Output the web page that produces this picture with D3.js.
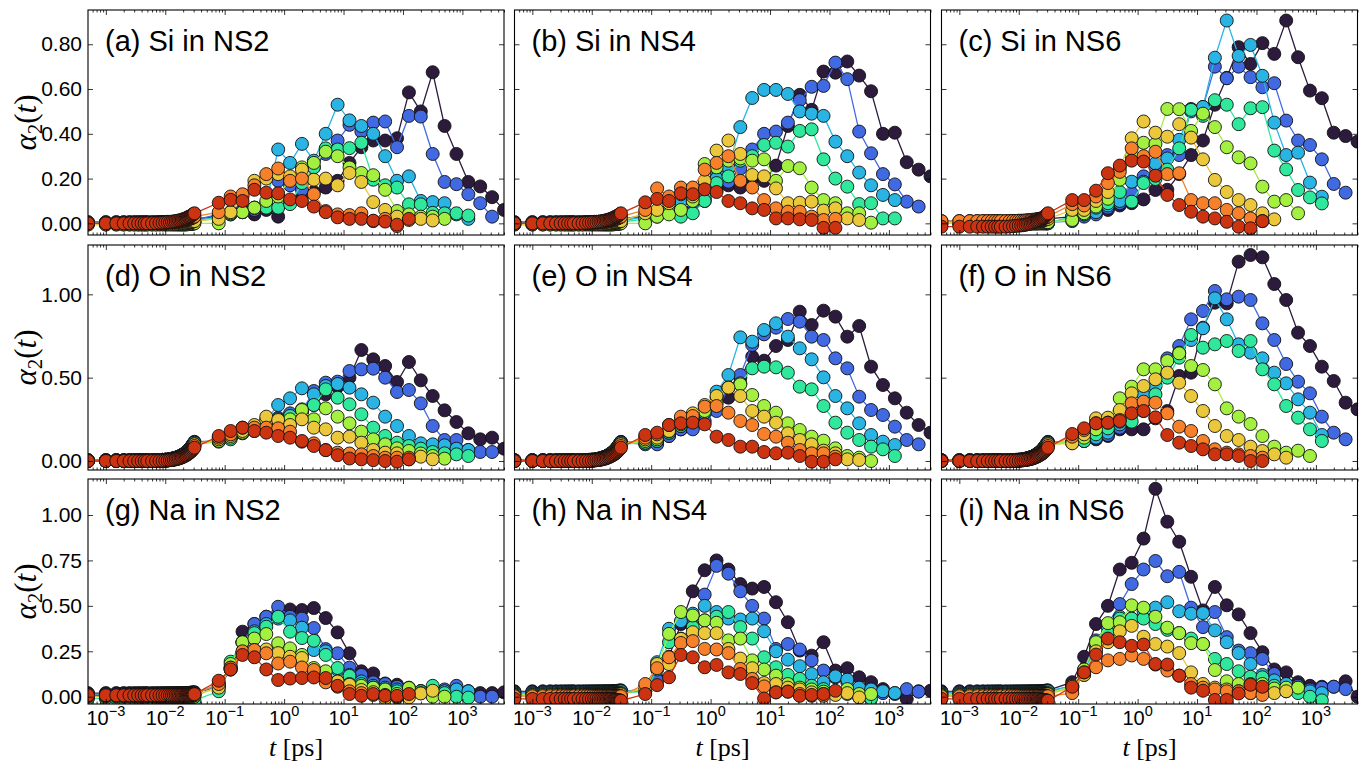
<!DOCTYPE html>
<html><head><meta charset="utf-8">
<script src="https://cdn.jsdelivr.net/npm/d3@7"></script>
<style>body{margin:0;background:#fff}svg{display:block}</style>
</head><body>
<svg id="chart" width="1367" height="762"></svg>
<script>
// ---------------- DATA ----------------
const tEarly = [.0005,.001,.0015,.002,.0025,.003,.0035,.004,.0045,.005,.006,.007,.008,.009,.010,.011,.012,.013,.014,.015,.016,.017,.018,.019,.020,.021,.022,.023,.024,.025,.026,.027,.028,.029,.030,.031];
const tLate = [0.0794,0.1259,0.1995,0.3162,0.5012,0.7943,1.259,1.995,3.162,5.012,7.943,12.59,19.95,31.62,50.12,79.43,125.9,199.5,316.2,501.2,794.3,1259,1995,3162,5012];
const seriesColors = ["#2d1b3e","#4169e1","#2ab4e4","#30e89c","#a4f040","#ebc83b","#f7802a","#cc3311"];
const panelTitles = ["(a) Si in NS2","(b) Si in NS4","(c) Si in NS6","(d) O in NS2","(e) O in NS4","(f) O in NS6","(g) Na in NS2","(h) Na in NS4","(i) Na in NS6"];
const xTickExponents = [-3,-2,-1,0,1,2,3];
const yTicksSi = [0,0.2,0.4,0.6,0.8];
const yTicksO = [0,0.5,1.0];
const yTicksNa = [0,0.25,0.5,0.75,1.0];

// early-time values (t <= 0.031 ps), one array per series, purple -> red
const earlySi = [
 [.005,.005,.005,.005,.005,.005,.005,.005,.005,.005,.005,.005,.006,.006,.006,.007,.007,.007,.008,.008,.009,.009,.01,.01,.011,.012,.012,.013,.014,.015,.015,.016,.017,.018,.019,.02],
 [.005,.005,.005,.005,.005,.005,.005,.005,.005,.005,.005,.005,.005,.006,.006,.006,.006,.007,.007,.007,.007,.008,.008,.009,.009,.009,.01,.01,.011,.011,.012,.012,.013,.014,.014,.015],
 [0,0,0,0,0,0,0,0,0,0,0,0,0,.001,.001,.001,.001,.002,.002,.002,.002,.003,.003,.004,.004,.004,.005,.005,.006,.006,.007,.007,.008,.009,.009,.01],
 [0,0,0,0,0,0,0,0,0,0,0,0,0,0,0,0,0,0,0,0,0,0,0,0,0,0,.001,.001,.002,.002,.003,.003,.004,.004,.005,.005],
 [-.005,-.005,-.005,-.005,-.005,-.005,-.005,-.005,-.005,-.005,-.005,-.005,-.005,-.005,-.005,-.005,-.005,-.005,-.005,-.005,-.005,-.005,-.005,-.005,-.005,-.005,-.005,-.004,-.004,-.003,-.003,-.002,-.002,-.001,-.001,0],
 [-.005,-.005,-.005,-.005,-.005,-.005,-.005,-.005,-.005,-.005,-.005,-.005,-.004,-.004,-.004,-.003,-.003,-.003,-.002,-.002,-.001,-.001,0,0,.001,.002,.002,.003,.004,.004,.005,.006,.007,.008,.009,.01],
 [0,0,0,0,0,0,0,0,0,0,0,.001,.001,.002,.002,.003,.004,.004,.005,.006,.007,.008,.01,.011,.012,.013,.015,.016,.018,.019,.021,.022,.024,.026,.028,.03],
 [0,0,0,0,0,0,0,0,0,0,0,.001,.002,.003,.004,.005,.005,.007,.008,.009,.011,.013,.014,.016,.018,.02,.022,.024,.027,.029,.031,.033,.036,.039,.042,.045]
];
const earlySiC = [
 [.01,.01,.01,.01,.01,.01,.01,.01,.01,.01,.01,.01,.01,.01,.01,.01,.01,.01,.01,.01,.01,.01,.01,.01,.01,.01,.011,.012,.013,.014,.015,.016,.017,.018,.019,.02],
 [.005,.005,.005,.005,.005,.005,.005,.005,.005,.005,.005,.005,.005,.005,.005,.005,.005,.005,.005,.005,.005,.005,.005,.005,.005,.005,.005,.005,.005,.005,.005,.005,.005,.005,.005,.005],
 [.005,.005,.005,.005,.005,.005,.005,.005,.005,.005,.005,.005,.005,.005,.005,.005,.005,.005,.005,.005,.005,.005,.005,.005,.005,.005,.005,.004,.004,.003,.003,.002,.002,.001,.001,0],
 [0,0,0,0,0,0,0,0,0,0,0,0,0,0,0,0,0,0,0,0,0,0,0,0,0,0,0,0,0,0,0,0,0,0,0,0],
 [0,0,0,0,0,0,0,0,0,0,0,0,0,0,0,0,0,0,0,0,0,0,0,0,0,0,.001,.001,.002,.002,.003,.003,.004,.004,.005,.005],
 [.005,.005,.005,.005,.005,.005,.005,.005,.005,.005,.005,.005,.006,.006,.006,.007,.007,.007,.008,.008,.009,.009,.01,.01,.011,.012,.012,.013,.014,.015,.015,.016,.017,.018,.019,.02],
 [.01,.01,.01,.01,.01,.01,.01,.01,.01,.01,.01,.01,.011,.011,.012,.012,.012,.013,.014,.014,.015,.016,.016,.017,.018,.019,.02,.021,.022,.023,.024,.025,.026,.027,.029,.03],
 [-.015,-.015,-.015,-.015,-.015,-.015,-.015,-.015,-.015,-.015,-.015,-.014,-.013,-.011,-.01,-.009,-.008,-.006,-.004,-.002,-.001,.002,.004,.007,.009,.011,.014,.017,.02,.023,.026,.029,.033,.037,.041,.045]
];
const earlyO = [
 [.005,.005,.005,.005,.005,.005,.005,.005,.005,.005,.005,.005,.006,.007,.008,.009,.011,.014,.016,.019,.023,.026,.03,.035,.039,.045,.05,.056,.062,.069,.075,.083,.09,.098,.106,.115],
 [.005,.005,.005,.005,.005,.005,.005,.005,.005,.005,.005,.005,.006,.007,.008,.009,.011,.014,.016,.019,.023,.026,.03,.035,.039,.045,.05,.056,.062,.069,.075,.083,.09,.098,.106,.112],
 [.005,.005,.005,.005,.005,.005,.005,.005,.005,.005,.005,.005,.006,.007,.008,.009,.011,.013,.016,.019,.022,.026,.03,.034,.039,.044,.049,.055,.061,.067,.074,.081,.088,.095,.102,.11],
 [0,0,0,0,0,0,0,0,0,0,0,0,.001,.001,.003,.004,.006,.008,.01,.013,.016,.019,.023,.027,.031,.036,.041,.046,.052,.058,.064,.071,.077,.085,.092,.1],
 [0,0,0,0,0,0,0,0,0,0,0,0,.001,.001,.003,.004,.006,.008,.01,.013,.016,.019,.023,.027,.031,.036,.041,.046,.052,.058,.064,.071,.077,.085,.092,.1],
 [0,0,0,0,0,0,0,0,0,0,0,0,.001,.001,.003,.004,.006,.008,.01,.013,.016,.019,.023,.027,.031,.036,.041,.046,.052,.058,.064,.071,.077,.085,.092,.1],
 [0,0,0,0,0,0,0,0,0,0,0,0,.001,.001,.002,.004,.005,.007,.009,.012,.014,.017,.021,.024,.028,.032,.037,.042,.047,.052,.058,.064,.07,.076,.083,.09],
 [0,0,0,0,0,0,0,0,0,0,0,0,.001,.001,.002,.003,.005,.006,.008,.01,.013,.015,.018,.022,.025,.029,.033,.037,.041,.046,.051,.056,.062,.068,.074,.08]
];
const earlyNa2 = [
 [.02,.02,.02,.02,.02,.02,.02,.02,.02,.02,.02,.02,.02,.02,.02,.02,.02,.02,.02,.02,.02,.02,.02,.02,.02,.02,.02,.02,.021,.021,.022,.022,.023,.023,.024,.025],
 [.015,.015,.015,.015,.015,.015,.015,.015,.015,.015,.015,.015,.015,.015,.015,.015,.015,.015,.015,.015,.015,.015,.015,.015,.015,.015,.015,.015,.016,.016,.017,.017,.018,.018,.019,.02],
 [.01,.01,.01,.01,.01,.01,.01,.01,.01,.01,.01,.01,.01,.01,.01,.01,.01,.01,.01,.01,.01,.01,.01,.01,.01,.01,.01,.01,.01,.011,.011,.012,.012,.013,.013,.014],
 [-.01,-.01,-.01,-.01,-.01,-.01,-.01,-.01,-.01,-.01,-.01,-.01,-.01,-.01,-.01,-.01,-.01,-.01,-.01,-.01,-.01,-.01,-.01,-.01,-.011,-.012,-.013,-.014,-.015,-.016,-.017,-.018,-.019,-.02,-.02,-.02],
 [0,0,0,0,0,0,0,0,0,0,0,0,0,0,0,0,0,0,0,0,0,0,0,0,0,0,0,0,0,0,0,0,0,0,0,0],
 [.003,.003,.003,.003,.003,.003,.003,.003,.003,.003,.003,.003,.003,.003,.003,.003,.003,.003,.003,.003,.003,.003,.003,.003,.003,.003,.004,.004,.005,.005,.006,.006,.007,.007,.008,.008],
 [.006,.006,.006,.006,.006,.006,.006,.006,.006,.006,.006,.006,.006,.006,.006,.006,.006,.006,.006,.006,.006,.006,.006,.006,.006,.006,.007,.008,.009,.01,.011,.012,.013,.014,.015,.016],
 [.008,.008,.008,.008,.008,.008,.008,.008,.008,.008,.008,.008,.008,.008,.008,.008,.008,.008,.008,.008,.008,.008,.008,.008,.008,.008,.008,.009,.009,.01,.01,.011,.012,.012,.013,.014]
];
const earlyNa46 = [
 [.03,.03,.03,.03,.03,.03,.03,.03,.03,.03,.03,.03,.03,.03,.03,.03,.03,.03,.03,.03,.03,.03,.03,.03,.03,.03,.03,.03,.031,.031,.032,.032,.033,.033,.034,.035],
 [.025,.025,.025,.025,.025,.025,.025,.025,.025,.025,.025,.025,.025,.025,.025,.025,.025,.025,.025,.025,.025,.025,.025,.025,.025,.025,.025,.025,.026,.026,.027,.027,.028,.028,.029,.03],
 [.02,.02,.02,.02,.02,.02,.02,.02,.02,.02,.02,.02,.02,.02,.02,.02,.02,.02,.02,.02,.02,.02,.02,.02,.02,.02,.021,.022,.023,.024,.025,.026,.027,.028,.029,.03],
 [.015,.015,.015,.015,.015,.015,.015,.015,.015,.015,.015,.015,.015,.015,.015,.015,.015,.015,.015,.015,.015,.015,.015,.015,.015,.015,.015,.016,.016,.017,.017,.018,.018,.019,.019,.02],
 [.01,.01,.01,.01,.01,.01,.01,.01,.01,.01,.01,.01,.01,.01,.01,.01,.01,.01,.01,.01,.01,.01,.01,.01,.01,.01,.01,.011,.011,.012,.012,.013,.013,.014,.014,.015],
 [.008,.008,.008,.008,.008,.008,.008,.008,.008,.008,.008,.008,.008,.008,.008,.008,.008,.008,.008,.008,.008,.008,.008,.008,.008,.008,.008,.009,.009,.01,.01,.011,.011,.012,.012,.013],
 [.003,.003,.003,.003,.003,.003,.003,.003,.003,.003,.003,.003,.003,.003,.003,.003,.003,.003,.003,.003,.003,.003,.003,.003,.003,.003,.003,.003,.003,.003,.003,.003,.003,.003,.003,.003],
 [-.012,-.012,-.012,-.012,-.012,-.012,-.012,-.012,-.012,-.012,-.012,-.012,-.012,-.012,-.012,-.012,-.012,-.012,-.012,-.012,-.012,-.012,-.012,-.012,-.012,-.012,-.013,-.014,-.015,-.016,-.017,-.018,-.019,-.02,-.021,-.022]
];

// late-time values (t = 0.079 ps ... 5000 ps, 0.2-decade steps), purple -> red
const lateSiNS2 = [
 [.03,.05,.05,.04,.06,.03,.10,.12,.14,.16,.19,.27,.34,.37,.37,.38,.585,.50,.675,.435,.31,.185,.165,.117,.06],
 [.04,.05,.06,.06,.07,.19,.17,.15,.25,.31,.37,.44,.41,.45,.455,.34,.48,.477,.31,.185,.175,.13,.09,.03],
 [.03,.04,.05,.07,.09,.33,.27,.355,.28,.40,.53,.46,.435,.40,.30,.19,.21,.10,.095,.09,.04,.02],
 [.03,.04,.05,.07,.07,.07,.086,.18,.25,.335,.33,.336,.36,.195,.17,.16,.085,.085,.047,.045,.045,.035],
 [0,.045,.05,.07,.10,.12,.20,.25,.27,.32,.30,.25,.225,.215,.15,.055,.04,.03,.03,.02],
 [.02,.05,.12,.19,.20,.22,.21,.24,.195,.20,.17,.225,.185,.095,.06,.03,.015,.02,.013],
 [.05,.12,.13,.17,.22,.245,.19,.20,.13,.055,.04,.037,.045,.01,.02,-.012],
 [.092,.105,.10,.15,.137,.134,.107,.10,.075,.05,.027,.02,.02,.012,.008,-.006,.02]
];
const lateSiNS4 = [
 [.03,.04,.05,.075,.09,.11,.15,.17,.16,.20,.19,.258,.435,.574,.507,.678,.673,.723,.66,.59,.40,.405,.273,.24,.21],
 [.04,.05,.05,.08,.09,.10,.22,.186,.245,.33,.40,.41,.45,.55,.61,.614,.718,.644,.41,.313,.22,.174,.097,.075],
 [.03,.05,.06,.10,.11,.12,.20,.25,.43,.56,.596,.596,.578,.50,.49,.48,.365,.30,.227,.17,.127,.104],
 [.02,.03,.05,.03,.045,.10,.18,.21,.28,.30,.35,.36,.343,.413,.42,.286,.20,.164,.086,.09,.022,.022],
 [0,.03,.04,.06,.10,.265,.25,.28,.29,.28,.286,.19,.256,.246,.16,.104,.09,.045,.045,.003],
 [.045,.06,.09,.13,.12,.19,.325,.37,.31,.216,.21,.156,.09,.092,.097,.057,.067,.022,.015],
 [.06,.156,.12,.16,.16,.24,.27,.30,.19,.16,.104,.067,.052,.052,.03,.015,.02],
 [.094,.109,.10,.134,.13,.152,.14,.10,.09,.067,.06,.022,.022,.018,.015,-.02,-.02]
];
const lateSiNS6 = [
 [.03,.04,.05,.06,.08,.09,.107,.149,.15,.22,.305,.37,.53,.65,.787,.712,.805,.757,.906,.742,.593,.559,.405,.39,.365],
 [.01,.03,.04,.07,.09,.135,.21,.25,.305,.305,.511,.52,.70,.648,.70,.653,.608,.626,.459,.37,.35,.286,.176,.137],
 [.03,.04,.05,.08,.10,.186,.186,.268,.29,.373,.50,.52,.74,.906,.748,.797,.659,.45,.305,.316,.182,.119],
 [.03,.04,.07,.09,.14,.097,.18,.198,.24,.335,.507,.48,.55,.53,.443,.514,.519,.325,.241,.149,.116,.089],
 [.015,.045,.075,.11,.195,.30,.36,.355,.511,.51,.413,.49,.43,.34,.295,.268,.164,.097,.104,.045],
 [.06,.06,.10,.14,.246,.38,.455,.405,.387,.443,.383,.286,.194,.14,.104,.082,.045,.018],
 [.086,.08,.12,.18,.23,.335,.30,.32,.22,.224,.104,.09,.09,.06,.045,.022,.01],
 [.104,.104,.146,.224,.258,.28,.276,.213,.127,.082,.052,.03,.022,.007,-.015,-.022,.01]
];
const lateONS2 = [
 [.12,.14,.17,.19,.21,.22,.25,.28,.336,.40,.446,.50,.666,.61,.57,.474,.594,.484,.39,.304,.234,.166,.13,.14,.074],
 [.12,.14,.17,.21,.23,.26,.286,.30,.42,.47,.476,.54,.55,.554,.50,.414,.426,.346,.21,.126,.126,.066,.054,.054],
 [.12,.14,.17,.21,.25,.336,.376,.436,.40,.45,.462,.44,.40,.35,.266,.21,.15,.106,.10,.094,.074,.066],
 [.116,.13,.166,.18,.236,.25,.27,.31,.336,.43,.38,.34,.28,.20,.15,.11,.09,.074,.054,.046,.04,.03],
 [.12,.14,.17,.20,.236,.25,.25,.306,.25,.316,.266,.226,.176,.13,.10,.076,.06,.045,.03,.014],
 [.13,.15,.18,.216,.266,.246,.216,.25,.20,.19,.14,.146,.11,.066,.05,.046,.01,.026,.01],
 [.14,.16,.20,.20,.20,.196,.176,.116,.106,.066,.05,.045,.04,.03,.02,.02,.02],
 [.15,.18,.20,.18,.17,.15,.14,.12,.09,.065,.035,.015,.01,.005,0,-.004,.01]
];
const lateONS4 = [
 [.11,.11,.15,.19,.20,.30,.35,.38,.50,.626,.602,.69,.726,.896,.816,.902,.866,.746,.81,.566,.456,.376,.29,.216,.17],
 [.10,.10,.15,.19,.19,.24,.30,.44,.516,.696,.76,.80,.852,.836,.746,.726,.616,.556,.386,.306,.276,.206,.126,.10],
 [.11,.12,.17,.21,.24,.31,.416,.516,.742,.716,.786,.826,.746,.676,.61,.502,.39,.316,.226,.156,.116,.096],
 [.11,.12,.17,.21,.25,.29,.38,.44,.466,.556,.566,.562,.53,.446,.43,.33,.23,.17,.126,.086,.07,.03],
 [.12,.13,.18,.22,.26,.30,.35,.44,.46,.396,.33,.29,.226,.186,.146,.122,.076,.03,.02,0],
 [.13,.14,.18,.25,.286,.336,.39,.44,.39,.30,.266,.23,.166,.126,.10,.062,.046,.01,.006],
 [.14,.16,.216,.266,.27,.326,.33,.29,.24,.216,.162,.146,.11,.066,.046,.046,.026],
 [.156,.17,.216,.226,.23,.22,.146,.126,.086,.086,.054,.046,.05,.03,-.004,-.004,.01]
];
const lateONS6 = [
 [.11,.12,.13,.15,.19,.19,.19,.256,.30,.51,.53,.80,.95,.946,1.196,1.236,1.222,1.062,.966,.77,.69,.566,.48,.35,.31],
 [.11,.13,.146,.156,.20,.28,.35,.45,.616,.69,.85,.90,1.02,.97,.986,.966,.826,.726,.582,.476,.406,.266,.17,.13],
 [.11,.12,.14,.17,.22,.30,.396,.45,.526,.65,.726,.796,.976,.85,.70,.65,.616,.53,.466,.37,.29,.156],
 [.11,.12,.16,.196,.236,.236,.30,.40,.50,.62,.756,.68,.70,.72,.66,.72,.55,.46,.33,.26,.19,.12],
 [.12,.14,.19,.25,.376,.446,.55,.55,.60,.646,.57,.546,.46,.316,.266,.222,.15,.086,.05,.062,.03],
 [.106,.16,.256,.26,.306,.406,.45,.49,.53,.47,.39,.30,.21,.15,.126,.086,.06,.04,.02],
 [.146,.186,.226,.23,.246,.346,.356,.35,.286,.206,.18,.12,.07,.05,.04,.03,.02],
 [.162,.196,.226,.23,.24,.286,.30,.262,.156,.11,.09,.07,.04,.04,.03,0,0]
];
const lateNaNS2 = [
 [.05,.15,.358,.40,.44,.46,.48,.477,.488,.433,.354,.239,.14,.128,.073,.066,.05,.03,.04,.03,.04,.03,.02,.02,.024],
 [.06,.15,.30,.40,.44,.495,.44,.43,.378,.262,.239,.16,.12,.079,.07,.055,.04,.03,.02,.04,.06,.03,0,0],
 [.07,.16,.30,.36,.40,.43,.42,.38,.257,.25,.147,.12,.084,.06,.05,.04,.03,.03,.02,.03,.04,.03],
 [.03,.193,.30,.35,.385,.44,.358,.323,.308,.23,.158,.115,.07,.05,.04,.03,.02,.03,.06,.02,0,-.005],
 [.06,.18,.30,.32,.345,.294,.266,.23,.158,.14,.084,.07,.06,.05,.04,.015,.048,.02,0,0],
 [.05,.16,.24,.257,.26,.24,.22,.213,.14,.097,.084,.066,.037,.025,-.007,-.004,-.004,.018,.033],
 [.07,.16,.25,.257,.239,.183,.193,.161,.147,.079,.055,.03,.02,.01,.01,0],
 [.088,.15,.23,.217,.15,.092,.10,.103,.106,.103,.06,.015,.005,.015,.005,.005,.015]
];
const lateNaNS4 = [
 [.03,.10,.22,.40,.58,.696,.75,.70,.62,.595,.604,.52,.41,.254,.226,.30,.144,.157,.107,.08,.042,.015,-.013,.03,.033],
 [.03,.09,.20,.30,.41,.562,.72,.677,.58,.50,.43,.263,.29,.26,.20,.144,.107,.08,.04,.03,.02,.02,.042,.028],
 [.04,.19,.374,.416,.457,.50,.466,.43,.425,.43,.36,.25,.204,.168,.125,.08,.112,.094,.05,.04,.03,.02],
 [.03,.15,.30,.32,.383,.42,.44,.466,.383,.32,.217,.162,.12,.098,.06,.042,.024,.015,-.004,-.01],
 [.05,.17,.346,.466,.447,.42,.407,.31,.32,.20,.15,.116,.07,.05,.04,.028,.024,.042,.015,.015],
 [.05,.18,.18,.318,.355,.35,.35,.263,.21,.157,.075,.07,.05,.04,.024,.015,.01,.02,-.004],
 [.07,.157,.217,.296,.306,.263,.26,.24,.153,.098,.057,.024,.028,.015,.005,.005],
 [.015,.064,.107,.23,.217,.162,.175,.134,.125,.075,-.01,.024,.028,.005,.01,.015,.033]
];
const lateNaNS6 = [
 [.08,.22,.40,.50,.70,.737,.87,1.144,.963,.853,.66,.475,.604,.503,.453,.35,.245,.15,.134,.08,.06,.055,.055,.085,0],
 [.06,.15,.31,.40,.51,.62,.70,.747,.663,.687,.49,.383,.466,.328,.254,.24,.208,.125,.07,.06,.04,.05,.055,.042],
 [.06,.14,.28,.38,.44,.43,.47,.49,.52,.47,.457,.46,.365,.30,.24,.18,.12,.09,.07,.05,.03,.02],
 [.05,.12,.26,.35,.43,.43,.43,.40,.368,.35,.32,.29,.208,.18,.14,.11,.107,.06,.03,.02,0,-.02],
 [.06,.15,.30,.405,.41,.503,.49,.44,.38,.35,.295,.29,.147,.085,.07,.07,.07,.045,.05,.05],
 [.05,.12,.25,.30,.36,.39,.33,.29,.276,.24,.134,.07,.05,.04,.03,.02,.02,.02,.03],
 [.02,.134,.162,.20,.208,.227,.208,.177,.144,.116,.07,.05,.04,.03,.03,.02,.01],
 [.055,.134,.232,.32,.30,.28,.287,.18,.177,.116,.05,.033,-.018,-.018,.018,.066,.055]
];

// ---------------- LAYOUT ----------------
const panels = [
 {early: earlySi,   late: lateSiNS2, row:0, col:0},
 {early: earlySi,   late: lateSiNS4, row:0, col:1},
 {early: earlySiC,  late: lateSiNS6, row:0, col:2},
 {early: earlyO,    late: lateONS2,  row:1, col:0},
 {early: earlyO,    late: lateONS4,  row:1, col:1},
 {early: earlyO,    late: lateONS6,  row:1, col:2},
 {early: earlyNa2,  late: lateNaNS2, row:2, col:0},
 {early: earlyNa46, late: lateNaNS4, row:2, col:1},
 {early: earlyNa46, late: lateNaNS6, row:2, col:2}
];
const colX = [88, 514.5, 941.5], colW = 416;
const rowY = [10, 245, 479], rowH = 225;
const rowDomains = [[-0.052, 0.953], [-0.054, 1.296], [-0.040, 1.198]];
const rowTicks = [yTicksSi, yTicksO, yTicksNa];
const xDomain = [Math.pow(10, -3.3), Math.pow(10, 3.7)];
const sans = "'Liberation Sans', Arial, Helvetica, sans-serif";
const serif = "'Liberation Serif', 'DejaVu Serif', serif";

const svg = d3.select("#chart");
const defs = svg.append("defs");

const majorX = xTickExponents.map(e => Math.pow(10, e));
const minorX = [];
for (let k = -4; k <= 3; k++) for (let j = 2; j <= 9; j++) {
  const v = j * Math.pow(10, k);
  if (v > xDomain[0] && v < xDomain[1]) minorX.push(v);
}

panels.forEach((p, idx) => {
  const x0 = colX[p.col], y0 = rowY[p.row];
  const xs = d3.scaleLog().domain(xDomain).range([x0, x0 + colW]);
  const ys = d3.scaleLinear().domain(rowDomains[p.row]).range([y0 + rowH, y0]);
  const clipId = "clip" + idx;
  defs.append("clipPath").attr("id", clipId).append("rect")
    .attr("x", x0).attr("y", y0).attr("width", colW).attr("height", rowH);

  const g = svg.append("g");
  const plot = g.append("g").attr("clip-path", `url(#${clipId})`);
  const line = d3.line().x(d => xs(d[0])).y(d => ys(d[1]));

  seriesColors.forEach((c, s) => {
    const pts = [];
    tEarly.forEach((t, i) => { const v = p.early[s][i]; if (v != null) pts.push([t, v]); });
    p.late[s].forEach((v, i) => { if (v != null) pts.push([tLate[i], v]); });
    plot.append("path").attr("d", line(pts)).attr("fill", "none")
      .attr("stroke", c).attr("stroke-width", 1.3);
    plot.append("g").selectAll("circle").data(pts).join("circle")
      .attr("cx", d => xs(d[0])).attr("cy", d => ys(d[1])).attr("r", 6.5)
      .attr("fill", c).attr("stroke", "#111").attr("stroke-width", 0.9);
  });

  // axes (inward ticks on all four sides)
  const styleAxis = sel => { sel.select(".domain").remove(); sel.selectAll("line").attr("stroke", "#000").attr("stroke-width", 0.8); };
  g.append("g").attr("transform", `translate(0,${y0 + rowH})`)
    .call(d3.axisBottom(xs).tickValues(majorX).tickSize(-5).tickFormat("")).call(styleAxis);
  g.append("g").attr("transform", `translate(0,${y0 + rowH})`)
    .call(d3.axisBottom(xs).tickValues(minorX).tickSize(-2.5).tickFormat("")).call(styleAxis);
  g.append("g").attr("transform", `translate(0,${y0})`)
    .call(d3.axisTop(xs).tickValues(majorX).tickSize(-5).tickFormat("")).call(styleAxis);
  g.append("g").attr("transform", `translate(0,${y0})`)
    .call(d3.axisTop(xs).tickValues(minorX).tickSize(-2.5).tickFormat("")).call(styleAxis);
  const yl = g.append("g").attr("transform", `translate(${x0},0)`)
    .call(d3.axisLeft(ys).tickValues(rowTicks[p.row]).tickSize(-5).tickPadding(6)
      .tickFormat(p.col === 0 ? d3.format(".2f") : ""))
    .call(styleAxis);
  yl.selectAll("text").style("font-family", sans).style("font-size", "21px").attr("fill", "#000");
  g.append("g").attr("transform", `translate(${x0 + colW},0)`)
    .call(d3.axisRight(ys).tickValues(rowTicks[p.row]).tickSize(-5).tickFormat("")).call(styleAxis);

  // frame
  g.append("rect").attr("x", x0).attr("y", y0).attr("width", colW).attr("height", rowH)
    .attr("fill", "none").attr("stroke", "#000").attr("stroke-width", 1.1);

  // title
  g.append("text").attr("x", x0 + 17).attr("y", y0 + 41)
    .style("font-family", sans).style("font-size", "29px").attr("fill", "#000")
    .text(panelTitles[idx]);

  // x tick labels on bottom row
  if (p.row === 2) {
    xTickExponents.forEach(e => {
      const t = g.append("text").attr("x", xs(Math.pow(10, e))).attr("y", 725)
        .attr("text-anchor", "middle").style("font-family", sans).style("font-size", "20px");
      t.append("tspan").text("10");
      t.append("tspan").attr("dy", -9).style("font-size", "14.5px").text((e < 0 ? "\u2212" : "") + Math.abs(e));
    });
    const xl = g.append("text").attr("x", x0 + colW / 2).attr("y", 756)
      .attr("text-anchor", "middle").style("font-family", serif).style("font-size", "26px");
    xl.append("tspan").style("font-style", "italic").text("t");
    xl.append("tspan").text(" [ps]");
  }
  // y label on first column
  if (p.col === 0) {
    const cy = y0 + rowH / 2;
    const t = g.append("text").attr("transform", `translate(36,${cy}) rotate(-90)`)
      .attr("text-anchor", "middle").style("font-family", serif).style("font-size", "31px");
    t.append("tspan").style("font-style", "italic").text("\u03B1");
    t.append("tspan").attr("dy", 6).style("font-size", "21px").text("2");
    t.append("tspan").attr("dy", -6).text("(");
    t.append("tspan").style("font-style", "italic").text("t");
    t.append("tspan").text(")");
  }
});
</script>
</body></html>
